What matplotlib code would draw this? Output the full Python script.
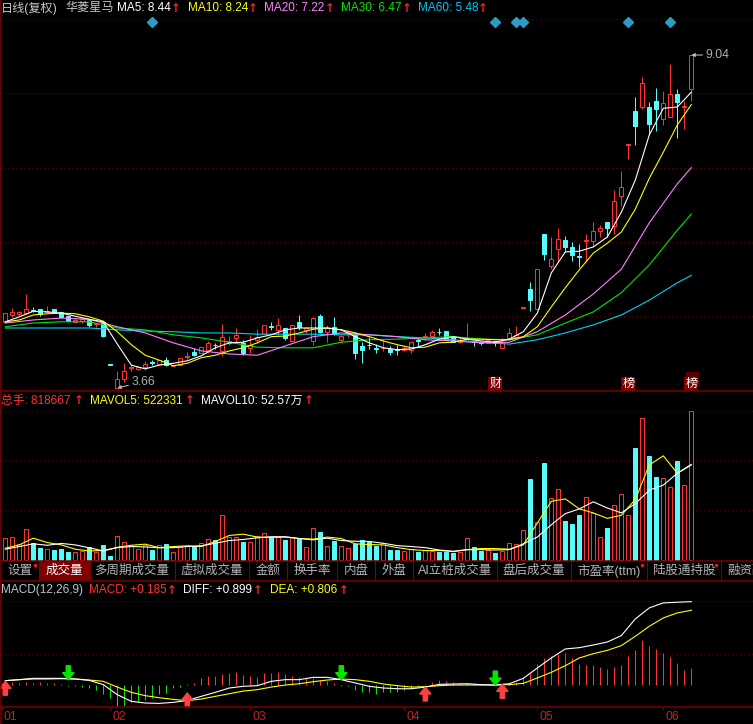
#!/usr/bin/env python3
# -*- coding: utf-8 -*-

############
# Packages #
############

import numpy as np
import matplotlib
matplotlib.use('Agg')
import matplotlib.pyplot as plt
from matplotlib.lines import Line2D
from matplotlib.patches import Rectangle
from matplotlib.transforms import ScaledTranslation

plt.rcParams['font.family'] = ['Liberation Sans', 'Noto Sans CJK SC', 'DejaVu Sans']

########
# Data #
########

open_p = [4.73,4.84,4.86,4.87,4.92,4.94,4.89,4.94,4.89,4.82,
          4.73,4.74,4.76,4.70,4.73,4.05,3.66,3.81,3.98,3.97,
          4.00,4.08,4.05,4.11,4.02,4.03,4.16,4.24,4.23,4.28,
          4.36,4.26,4.39,4.47,4.39,4.31,4.44,4.53,4.66,4.60,
          4.63,4.42,4.73,4.60,4.42,4.82,4.57,4.65,4.44,4.55,
          4.52,4.34,4.36,4.31,4.30,4.29,4.29,4.28,4.28,4.44,
          4.49,4.50,4.57,4.58,4.49,4.40,4.45,4.42,4.40,4.39,
          4.42,4.31,4.47,4.49,4.96,5.26,4.94,6.15,5.63,5.91,
          6.05,5.94,5.79,6.04,6.04,6.20,6.34,6.28,6.76,7.59,
          8.14,8.20,8.20,8.30,8.01,8.04,8.41,8.20,8.49]
high_p = [4.87,4.95,4.90,5.18,4.97,4.94,4.98,4.94,4.89,4.82,
          4.79,4.81,4.76,4.71,4.74,4.05,3.94,4.06,4.03,4.02,
          4.10,4.11,4.11,4.16,4.03,4.15,4.24,4.31,4.32,4.42,
          4.39,4.70,4.50,4.63,4.44,4.52,4.61,4.68,4.73,4.79,
          4.63,4.68,4.84,4.65,4.81,4.86,4.68,4.81,4.52,4.60,
          4.57,4.40,4.49,4.37,4.44,4.34,4.36,4.34,4.40,4.47,
          4.55,4.60,4.63,4.58,4.49,4.49,4.71,4.42,4.40,4.44,
          4.42,4.47,4.63,4.66,4.97,5.37,5.58,6.15,6.10,6.25,
          6.12,6.02,5.99,6.15,6.34,6.29,6.34,6.86,7.17,7.60,
          8.36,8.69,8.28,8.51,8.46,8.90,8.49,8.30,9.04]
low_p = [4.73,4.81,4.82,4.86,4.89,4.82,4.89,4.87,4.79,4.74,
         4.71,4.71,4.65,4.65,4.49,4.05,3.66,3.76,3.94,3.95,
         3.95,4.03,4.05,4.02,4.02,4.03,4.13,4.18,4.23,4.23,
         4.29,4.18,4.36,4.40,4.19,4.23,4.39,4.53,4.60,4.52,
         4.44,4.42,4.60,4.55,4.36,4.55,4.40,4.52,4.40,4.49,
         4.13,4.06,4.29,4.23,4.26,4.19,4.19,4.26,4.23,4.34,
         4.44,4.47,4.52,4.44,4.40,4.39,4.45,4.34,4.36,4.39,
         4.34,4.31,4.45,4.47,4.94,4.90,4.94,5.73,5.58,5.70,
         5.86,5.71,5.61,5.70,5.94,6.10,6.10,6.15,6.60,7.36,
         7.59,8.17,7.75,7.81,7.91,8.04,7.70,7.85,8.30]
close_p = [4.87,4.89,4.89,4.94,4.91,4.86,4.90,4.89,4.81,4.74,
           4.76,4.77,4.68,4.71,4.50,4.04,3.81,3.94,4.00,4.00,
           4.05,4.07,4.11,4.03,4.03,4.15,4.18,4.19,4.32,4.39,
           4.35,4.49,4.42,4.52,4.23,4.36,4.49,4.68,4.65,4.68,
           4.47,4.68,4.65,4.63,4.79,4.57,4.63,4.53,4.50,4.57,
           4.23,4.28,4.35,4.29,4.31,4.24,4.28,4.31,4.40,4.42,
           4.50,4.57,4.56,4.44,4.40,4.42,4.47,4.40,4.39,4.44,
           4.39,4.40,4.55,4.52,4.97,5.08,5.58,5.83,5.74,6.07,
           5.94,5.81,5.78,6.05,6.20,6.25,6.25,6.68,6.91,7.60,
           7.89,8.59,7.93,8.17,8.27,8.41,8.28,8.21,9.04]

# moving averages, read every second or fourth day
days_2 = list(range(0, 99, 2))
days_4 = list(range(0, 97, 4)) + [98]
ma5 = [4.73,4.81,4.90,4.89,4.87,4.82,4.77,4.73,4.37,4.03,
       3.97,4.03,4.06,4.10,4.18,4.31,4.39,4.40,4.47,4.52,
       4.60,4.63,4.63,4.63,4.60,4.49,4.39,4.31,4.28,4.29,
       4.36,4.45,4.49,4.45,4.42,4.40,4.45,4.57,4.87,5.52,
       5.86,5.87,5.94,6.10,6.50,7.02,7.75,8.18,8.20,8.44]
ma10 = [4.73,4.76,4.84,4.86,4.87,4.86,4.81,4.74,4.57,4.36,
        4.19,4.11,4.02,4.06,4.15,4.19,4.26,4.31,4.39,4.49,
        4.50,4.55,4.61,4.63,4.60,4.55,4.49,4.42,4.36,4.31,
        4.32,4.39,4.40,4.45,4.45,4.44,4.44,4.49,4.65,4.97,
        5.28,5.57,5.84,6.00,6.18,6.55,7.05,7.47,7.91,8.24]
ma20 = [4.71,4.76,4.79,4.77,4.65,4.55,4.39,4.26,4.21,4.19,
        4.34,4.49,4.55,4.52,4.49,4.44,4.42,4.39,4.40,
        4.57,4.84,5.18,5.58,6.33,6.96,7.22]
ma30 = [4.65,4.71,4.73,4.73,4.63,4.60,4.52,4.47,4.40,4.32,
        4.31,4.31,4.40,4.44,4.45,4.47,4.49,4.45,4.44,
        4.52,4.71,4.89,5.20,5.65,6.21,6.47]
ma60 = [4.63,4.63,4.63,4.63,4.60,4.58,4.57,4.55,4.55,4.53,
        4.53,4.53,4.52,4.52,4.49,4.47,4.44,4.40,4.37,
        4.44,4.55,4.68,4.84,5.08,5.36,5.48]

# volume in 10k lots
volume = [12.0,12.6,8.9,17.0,9.2,6.7,5.9,5.5,6.3,4.6,
          4.6,5.0,7.0,4.4,8.3,2.2,13.3,9.8,7.8,6.3,
          8.3,5.5,8.3,8.9,4.4,7.4,7.6,7.8,9.2,11.5,
          11.1,24.6,12.9,12.6,10.0,10.0,13.3,14.8,12.9,12.4,
          11.1,12.4,11.6,7.0,17.6,15.3,7.8,10.5,7.8,6.5,
          8.9,11.1,10.0,7.9,9.2,5.5,5.5,4.8,5.9,4.4,
          5.5,5.2,4.4,4.6,4.1,4.4,12.0,7.0,5.0,5.5,
          3.9,4.8,9.2,8.7,16.4,44.4,21.1,53.2,34.2,39.2,
          21.6,20.0,24.9,34.7,25.9,12.6,17.7,30.3,36.4,24.9,
          61.5,78.0,57.1,45.5,45.3,40.3,54.3,41.4,81.87]
mavol5 = [6.5,8.3,12.0,9.6,8.3,5.9,5.0,5.2,7.0,8.1,
          8.7,6.8,7.4,7.8,7.4,10.2,13.5,14.2,12.6,12.4,
          12.6,11.8,11.5,12.6,11.8,8.9,8.5,8.3,6.8,5.7,
          5.2,5.2,4.6,5.7,6.3,6.3,5.9,8.3,20.3,32.3,
          33.6,28.1,25.9,22.9,24.6,33.3,52.3,57.3,47.7,52.23]
mavol10 = [5.9,7.4,8.9,8.1,9.1,8.3,6.7,5.0,6.8,7.4,
           7.2,6.7,6.8,7.4,7.8,9.2,10.7,11.3,12.2,12.8,
           12.8,11.8,11.1,12.0,10.7,10.3,10.2,9.2,7.9,7.4,
           6.8,5.5,4.8,5.7,5.7,5.5,5.7,8.9,12.6,19.4,
           25.5,28.1,32.0,28.6,25.9,31.0,38.4,41.2,47.7,52.57]

macd = [0,.029,.025,.029,.022,.029,.025,.022,.014,-.007,
        -.014,-.022,-.029,-.050,-.094,-.144,-.227,-.227,-.187,-.180,
        -.162,-.144,-.101,-.090,-.036,-.018,.011,.022,.072,.101,
        .101,.115,.130,.144,.108,.101,.086,.126,.133,.137,
        .115,.101,.090,.079,.072,.054,.043,.018,-.007,-.011,
        -.058,-.072,-.079,-.094,-.079,-.079,-.072,-.058,-.029,-.014,
        .011,.036,.058,.047,.032,.022,.025,.025,.007,.011,
        0,0,.011,.036,.090,.133,.230,.295,.313,.335,
        .342,.295,.230,.216,.216,.198,.176,.194,.216,.313,
        .378,.486,.425,.389,.346,.302,.238,.166,.185]
diff = [.047,.058,.072,.072,.072,.065,.050,.004,-.104,-.176,
        -.194,-.198,-.187,-.166,-.122,-.079,-.032,-.014,-.007,.040,
        .058,.058,.083,.083,.058,.022,-.014,-.032,-.040,-.040,
        -.022,.007,.011,.014,.004,.000,.014,.072,.184,.292,
        .389,.403,.432,.464,.533,.713,.832,.886,.893,.899]
dea = [.047,.058,.065,.065,.068,.065,.054,.040,-.022,-.079,
       -.115,-.137,-.155,-.169,-.151,-.122,-.094,-.065,-.050,-.022,
       .000,.014,.036,.054,.065,.058,.040,.011,-.007,-.022,
       -.018,-.007,0,0,0,0,.004,.018,.076,.137,
       .209,.292,.338,.374,.425,.526,.634,.724,.778,.806]

# signals and labels
diamond_days = [21, 70, 73, 74, 89, 95]
buy_days = [0, 26, 60, 71]
buy_tips = [.040, -.086, -.022, .007]
sell_days = [9, 48, 70]
sell_tips = [.058, .058, .000]
month_days = [-0.5, 15, 35, 57, 76, 94]
month_labels = ['01', '02', '03', '04', '05', '06']
tab_names = ['设置', '成交量', '多周期成交量', '虚拟成交量', '金额', '换手率', '内盘',
             '外盘', 'AI立桩成交量', '盘后成交量', '市盈率(ttm)', '陆股通持股', '融资融券']

##########
# Layout #
##########

W, H = 753, 724
RED = '#FF3232'
CYAN = '#54FCFC'
DARK = '#7C0000'
GREEN = '#00E600'
YELLOW = '#FFFF00'
VIOLET = '#FF80FF'
BLUE = '#00D0F0'
GRAY = '#B4B4B4'
FS = 8.5
LW = 0.72  # one pixel


def panel(top, bottom):
    ax = fig.add_axes([0, 1 - bottom / H, 1, (bottom - top) / H])
    ax.set_facecolor('black')
    ax.set_xlim(-0.757, 106.81)
    for s in ax.spines.values():
        s.set_visible(False)
    ax.tick_params(length=0, labelleft=False, labelbottom=False)
    ax.set_xticks([])
    ax.grid(axis='y', color=DARK, linestyle=(0, (1, 3)), linewidth=LW)
    ax.set_axisbelow(True)
    return ax


def label(x, y, s, color, **kw):
    fig.text(x / W, 1 - y / H, s, color=color, fontsize=kw.pop('fontsize', FS), va='center', **kw)


def up_arrow(x, y):
    fig.text(x / W, 1 - y / H, '↑', color='#FF2020', fontsize=8.5, va='center', ha='center',
             weight='bold', family='DejaVu Sans')


def sep(y):
    fig.add_artist(Line2D([0, 1], [1 - y / H, 1 - y / H], color=DARK, linewidth=1.1))


fig = plt.figure(figsize=(W / 100, H / 100), dpi=100, facecolor='black')

days = np.arange(len(close_p))
o, h, l, c = map(np.array, (open_p, high_p, low_p, close_p))
up = c >= o
colors = [RED if u else CYAN for u in up]
body_face = ['black' if u else CYAN for u in up]

###############
# Price panel #
###############

ax1 = panel(0, 391)
ax1.set_ylim(3.612, 9.929)
ax1.set_yticks([4.82, 6.02, 7.22, 8.43, 9.62])
wicks = ax1.vlines(days, l, h, colors=colors, linewidth=LW, zorder=2)
wicks.set_snap(True)
ax1.bar(days, np.abs(c - o), bottom=np.minimum(o, c), width=0.62, facecolor=body_face,
        edgecolor=colors, linewidth=LW, zorder=3)
for d, v, col in [(days_4, ma60, BLUE), (days_4, ma30, GREEN), (days_4, ma20, VIOLET),
                  (days_2, ma10, YELLOW), (days_2, ma5, 'white')]:
    ax1.plot(d, v, color=col, linewidth=0.8, zorder=4)
ax1.plot(diamond_days, [9.57] * len(diamond_days), 'D', color='#2E9BC6', markersize=4.6,
         linestyle='none', zorder=5)

ax1.annotate('3.66', xy=(16, 3.66), xytext=(10, 4.5), textcoords='offset points',
             color='#A8B0B8', fontsize=FS + 0.2, va='center',
             arrowprops=dict(arrowstyle='-|>', color='#B8B8B8', linewidth=0.8, mutation_scale=5,
                             shrinkA=0, shrinkB=0))
ax1.annotate('9.04', xy=(98, 9.04), xytext=(10, 0), textcoords='offset points',
             color='#A8B0B8', fontsize=FS + 0.2, va='center',
             arrowprops=dict(arrowstyle='-|>', color='#B8B8B8', linewidth=0.8, mutation_scale=5,
                             shrinkA=0, shrinkB=0))

ax1.add_patch(Rectangle((97.25, 3.685), 1.9, 0.23, facecolor='#5A0000', edgecolor='none', zorder=5))
for d, s in [(70, '财'), (89, '榜'), (98, '榜')]:
    ax1.text(d, 3.725, s, color='white', fontsize=FS + 0.2, ha='center', va='center', zorder=6,
             bbox=dict(facecolor='#800000', edgecolor='none', pad=0.6))

################
# Volume panel #
################

ax2 = panel(392, 561)
ax2.set_ylim(-0.55, 92.4)
ax2.set_yticks([27.65, 54.75, 81.87])
ax2.bar(days, volume, width=0.62, facecolor=body_face, edgecolor=colors, linewidth=LW, zorder=3)
ax2.plot(days_2, mavol5, color=YELLOW, linewidth=0.8, zorder=4)
ax2.plot(days_2, mavol10, color='white', linewidth=0.8, zorder=4)

##############
# MACD panel #
##############

ax3 = panel(581, 707)
ax3.set_ylim(-0.237, 1.122)
ax3.set_yticks([0.334, 0.906])
macd = np.array(macd)
sticks = ax3.vlines(days, 0, macd, colors=[RED if m >= 0 else GREEN for m in macd], linewidth=LW,
                    zorder=2)
sticks.set_snap(True)
ax3.plot(days_2, dea, color=YELLOW, linewidth=0.8, zorder=3)
ax3.plot(days_2, diff, color='white', linewidth=0.8, zorder=3)
for d, t in zip(buy_days, buy_tips):
    ax3.annotate('', xy=(d, t), xytext=(0, -10), textcoords='offset points', zorder=5,
                 arrowprops=dict(width=3, headwidth=8, headlength=5, color='#FF4040', shrink=0))
for d, t in zip(sell_days, sell_tips):
    ax3.annotate('', xy=(d, t), xytext=(0, 10), textcoords='offset points', zorder=5,
                 arrowprops=dict(width=3, headwidth=8, headlength=5, color=GREEN, shrink=0))
ax3.set_xticks(month_days)
ax3.set_xticklabels(month_labels, ha='left', color='#C82020', fontsize=8.8)
ax3.tick_params(axis='x', length=2.5, width=LW, color=DARK, labelbottom=True, pad=0.5)
shift = ScaledTranslation(1.4 / 72, 0, fig.dpi_scale_trans)
for t in ax3.get_xticklabels():
    t.set_transform(t.get_transform() + shift)

###########
# Headers #
###########

label(1, 8, '日线(复权)', '#C8C8C8', fontsize=8.7)
label(65, 8, '华菱星马', '#C8C8C8', fontsize=8.7)
for x, s, col, ax_ in [(117, 'MA5: 8.44', 'white', 176), (188, 'MA10: 8.24', YELLOW, 253),
                       (264, 'MA20: 7.22', VIOLET, 330), (341, 'MA30: 6.47', GREEN, 407),
                       (418, 'MA60: 5.48', '#00C8F8', 483)]:
    label(x, 8, s, col)
    up_arrow(ax_, 8)

label(1, 401, '总手: 818667', RED)
up_arrow(79, 401)
label(90, 401, 'MAVOL5: 522331', YELLOW)
up_arrow(190, 401)
label(201, 401, 'MAVOL10: 52.57万', 'white')
up_arrow(309, 401)

label(1, 590, 'MACD(12,26,9)', '#B8C8D0')
label(89, 590, 'MACD: +0.185', RED)
up_arrow(172, 590)
label(183, 590, 'DIFF: +0.899', 'white')
up_arrow(258, 590)
label(270, 590, 'DEA: +0.806', YELLOW)
up_arrow(344, 590)

########
# Tabs #
########

tab_edges = [39, 90, 175, 249, 287, 337, 375, 413, 497, 571, 647, 721]
fig.add_artist(Rectangle((39 / W, 1 - 580 / H), 51 / W, 19 / H, facecolor='#800000',
                         edgecolor='none', transform=fig.transFigure))
for x in tab_edges:
    fig.add_artist(Line2D([x / W, x / W], [1 - 561 / H, 1 - 580 / H], color=DARK, linewidth=LW))
centers = [20, 64, 132, 212, 268, 312, 356, 394, 455, 534, 609, 684]
for i, (cx, s) in enumerate(zip(centers, tab_names)):
    label(cx, 571, s, 'white' if i == 1 else GRAY, ha='center', fontsize=9)
label(727, 571, tab_names[-1], GRAY, fontsize=9)
for x in [35, 642, 716]:
    fig.add_artist(Line2D([x / W], [1 - 565 / H], marker='o', markersize=2.6, color='#FF1010',
                          markeredgewidth=0, linestyle='none'))

for y in [391, 561, 580.5, 707]:
    sep(y)
fig.add_artist(Line2D([1 / W, 1 / W], [0, 1], color=DARK, linewidth=1.1))

fig.savefig('out.png', dpi=100, facecolor='black')
